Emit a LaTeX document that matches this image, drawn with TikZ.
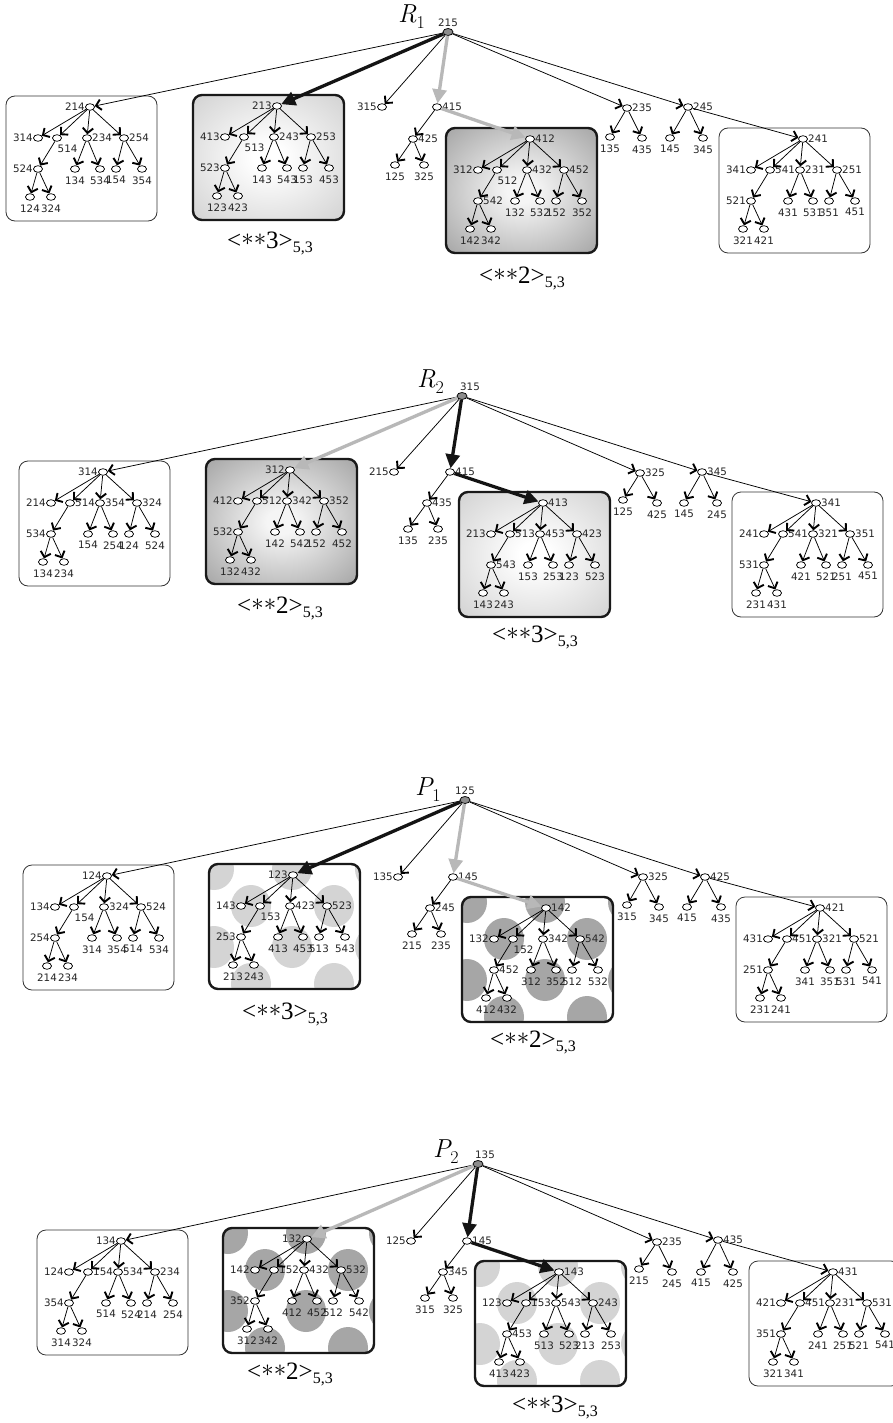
\documentclass[tikz,border=0pt]{standalone}
\usepackage{fontspec}
\newfontfamily\labfont{DejaVu Sans}
\newfontfamily\tagfont{Liberation Serif}
\usetikzlibrary{shapes.geometric,arrows.meta}

\definecolor{lgEdge}{gray}{0.74}
\definecolor{lgCorner}{gray}{0.62}
\definecolor{dgCenter}{gray}{0.96}
\definecolor{dgEdge}{gray}{0.50}
\definecolor{dgCorner}{gray}{0.34}
\definecolor{dotLight}{gray}{0.83}
\definecolor{dotDark}{gray}{0.65}
\definecolor{arrowGray}{gray}{0.72}
\definecolor{rootGray}{gray}{0.55}

\pgfdeclareradialshading{lightglow}{\pgfpointorigin}{color(0bp)=(white); color(5bp)=(white); color(50bp)=(lgEdge); color(71bp)=(lgCorner)}
\pgfdeclareradialshading{darkglow}{\pgfpointorigin}{color(0bp)=(dgCenter); color(5bp)=(dgCenter); color(50bp)=(dgEdge); color(71bp)=(dgCorner)}

\tikzset{
  tn/.style={ellipse, draw=black, line width=0.75pt, fill=white,
    minimum width=9pt, minimum height=6.6pt, inner sep=0pt},
  rootn/.style={tn, fill=rootGray, minimum width=10pt, minimum height=7pt},
  lab/.style={font={\labfont\fontsize{10.3}{10.3}\selectfont}, text=black!85, inner sep=0pt},
  lp-l/.style={anchor=east, xshift=-5pt},
  lp-r/.style={anchor=west, xshift=5pt},
  lp-b/.style={anchor=north, yshift=-7.2pt},
  lp-br/.style={anchor=north west, xshift=0.5pt, yshift=-6.5pt},
  tedge/.style={line width=0.75pt, -{Straight Barb[length=5pt,width=10.5pt,line width=1.9pt]}},
  boldblack/.style={line width=3.3pt, draw=black!92, -{Triangle[length=14pt,width=14pt]}},
  boldgray/.style={line width=3.3pt, draw=arrowGray, -{Triangle[length=14pt,width=14pt]}},
  thinbox/.style={draw=black!80, line width=0.8pt, rounded corners=9pt},
  thickbox/.style={draw=black!90, line width=2.4pt, rounded corners=9pt},
  title/.style={font=\fontsize{26}{26}\selectfont, inner sep=0pt, anchor=base west},
  tag/.style={inner sep=0pt}
}

% offsets of the twelve nodes of a subtree, relative to its root
\def\TX{{0,-52,-33,-3,34,-52,-15,10,26,52,-60,-39}}
\def\TY{{0,31,31,31,31,62,62,62,62,62,90,90}}

% subtree: name prefix, root x, root y, list of label/position
\newcommand\subtree[4]{%
  \foreach \lab/\pos [count=\i from 0] in {#4}{%
    \pgfmathsetmacro\dx{\TX[\i]}\pgfmathsetmacro\dy{\TY[\i]}%
    \node[lab,lp-\pos] at ({#2+\dx},{#3+\dy}) {\lab};
  }
  \foreach \i in {0,...,11}{%
    \pgfmathsetmacro\dx{\TX[\i]}\pgfmathsetmacro\dy{\TY[\i]}%
    \node[tn] (#1-\i) at ({#2+\dx},{#3+\dy}) {};
  }
  \foreach \a/\b in {0/1,0/2,0/3,0/4,2/5,3/6,3/7,4/8,4/9,5/10,5/11}
    \draw[tedge] (#1-\a) -- (#1-\b);
}

% frames around a subtree whose root is at (#1,#2)
\newcommand\plainbox[2]{\draw[thinbox] ({#1-84},{#2-11}) rectangle ({#1+67},{#2+114});}
\newcommand\glowbox[3]{%
  \path[shade, shading=#3, rounded corners=9pt] ({#1-84},{#2-11}) rectangle ({#1+67},{#2+114});
  \draw[thickbox] ({#1-84},{#2-11}) rectangle ({#1+67},{#2+114});}
\newcommand\dotbox[3]{%
  \begin{scope}
    \clip[rounded corners=9pt] ({#1-84},{#2-11}) rectangle ({#1+67},{#2+114});
    \foreach \u/\v in {5/5,83/5,166/5,42/42,125/42,5/83,83/83,166/83,42/120,125/120}
      \fill[#3] ({#1-84+\u},{#2-11+\v}) ellipse [x radius=20, y radius=21];
  \end{scope}
  \draw[thickbox] ({#1-84},{#2-11}) rectangle ({#1+67},{#2+114});}

% single node with its label
\newcommand\leaf[5]{\node[lab,lp-#5] at (#2,#3) {#4}; \node[tn] (#1) at (#2,#3) {};}

\newcommand\tagtext[1]{{\tagfont\fontsize{25}{25}\selectfont <\raisebox{3pt}{$\ast\ast$}#1>}\raisebox{-4pt}{\tagfont\fontsize{16}{16}\selectfont 5,3}}
\newcommand\titletext[2]{{\itshape #1}\raisebox{-6pt}{\fontsize{18}{18}\selectfont #2}}

\begin{document}
\begin{tikzpicture}[x=1pt,y=-1pt]
\useasboundingbox (0,0) rectangle (893,1423);
\clip (0,0) rectangle (893,1423);
\fill[white] (0,0) rectangle (893,1423);

% ================= R1 =================
\plainbox{90}{107}
\glowbox{277}{106}{lightglow}
\glowbox{530}{139}{darkglow}
\plainbox{803}{139}
\subtree{a1}{90}{107}{214/l,314/l,514/br,234/r,254/r,524/l,134/b,534/b,154/b,354/b,124/b,324/b}
\subtree{b1}{277}{106}{213/l,413/l,513/br,243/r,253/r,523/l,143/b,543/b,153/b,453/b,123/b,423/b}
\subtree{c1}{530}{139}{412/r,312/l,512/br,432/r,452/r,542/r,132/b,532/b,152/b,352/b,142/b,342/b}
\subtree{d1}{803}{139}{241/r,341/l,541/r,231/r,251/r,521/l,431/b,531/b,351/b,451/b,321/b,421/b}
\node[lab,anchor=south] at (448,27) {215};
\node[rootn] (r1) at (448,32) {};
\leaf{r1-315}{382}{107}{315}{l}
\leaf{r1-415}{437}{107}{415}{r}
\leaf{r1-425}{413}{139}{425}{r}
\leaf{r1-125}{395}{165}{125}{b}
\leaf{r1-325}{424}{165}{325}{b}
\leaf{r1-235}{627}{108}{235}{r}
\leaf{r1-135}{610}{137}{135}{b}
\leaf{r1-435}{642}{138}{435}{b}
\leaf{r1-245}{688}{107}{245}{r}
\leaf{r1-145}{670}{138}{145}{b}
\leaf{r1-345}{703}{138}{345}{b}
\foreach \s/\t in {r1/a1-0,r1/r1-315,r1/r1-235,r1/r1-245,r1-245/d1-0,r1-415/r1-425,
  r1-425/r1-125,r1-425/r1-325,r1-235/r1-135,r1-235/r1-435,r1-245/r1-145,r1-245/r1-345}
  \draw[tedge] (\s) -- (\t);
\draw[boldblack] (r1) -- (b1-0);
\draw[boldgray] (r1) -- (r1-415);
\draw[boldgray] (r1-415) -- (c1-0);
\node[title] at (398,23) {\titletext{R}{1}};
\node[tag] at (270,243) {\tagtext{3}};
\node[tag] at (522,278) {\tagtext{2}};

% ================= R2 =================
\plainbox{103}{472}
\glowbox{290}{470}{darkglow}
\glowbox{543}{503}{lightglow}
\plainbox{816}{503}
\subtree{a2}{103}{472}{314/l,214/l,514/r,354/r,324/r,534/l,154/b,254/b,124/b,524/b,134/b,234/b}
\subtree{b2}{290}{470}{312/l,412/l,512/r,342/r,352/r,532/l,142/b,542/b,152/b,452/b,132/b,432/b}
\subtree{c2}{543}{503}{413/r,213/l,513/r,453/r,423/r,543/r,153/b,253/b,123/b,523/b,143/b,243/b}
\subtree{d2}{816}{503}{341/r,241/l,541/r,321/r,351/r,531/l,421/b,521/b,251/b,451/b,231/b,431/b}
\node[lab,anchor=south] at (470,391) {315};
\node[rootn] (r2) at (462,396) {};
\leaf{r2-215}{394}{472}{215}{l}
\leaf{r2-415}{450}{472}{415}{r}
\leaf{r2-435}{427}{503}{435}{r}
\leaf{r2-135}{408}{529}{135}{b}
\leaf{r2-235}{438}{529}{235}{b}
\leaf{r2-325}{640}{473}{325}{r}
\leaf{r2-125}{623}{500}{125}{b}
\leaf{r2-425}{657}{503}{425}{b}
\leaf{r2-345}{702}{472}{345}{r}
\leaf{r2-145}{684}{503}{145}{b}
\leaf{r2-245}{717}{503}{245}{b}
\foreach \s/\t in {r2/a2-0,r2/r2-215,r2/r2-325,r2/r2-345,r2-345/d2-0,r2-415/r2-435,
  r2-435/r2-135,r2-435/r2-235,r2-325/r2-125,r2-325/r2-425,r2-345/r2-145,r2-345/r2-245}
  \draw[tedge] (\s) -- (\t);
\draw[boldgray] (r2) -- (b2-0);
\draw[boldblack] (r2) -- (r2-415);
\draw[boldblack] (r2-415) -- (c2-0);
\node[title] at (417,387) {\titletext{R}{2}};
\node[tag] at (280,608) {\tagtext{2}};
\node[tag] at (535,637) {\tagtext{3}};

% ================= P1 =================
\plainbox{107}{876}
\dotbox{293}{875}{dotLight}
\dotbox{546}{908}{dotDark}
\plainbox{820}{908}
\subtree{a3}{107}{876}{124/l,134/l,154/br,324/r,524/r,254/l,314/b,354/b,514/b,534/b,214/b,234/b}
\subtree{b3}{293}{875}{123/l,143/l,153/br,423/r,523/r,253/l,413/b,453/b,513/b,543/b,213/b,243/b}
\subtree{c3}{546}{908}{142/r,132/l,152/br,342/r,542/r,452/r,312/b,352/b,512/b,532/b,412/b,432/b}
\subtree{d3}{820}{908}{421/r,431/l,451/r,321/r,521/r,251/l,341/b,351/b,531/b,541/b,231/b,241/b}
\node[lab,anchor=south] at (465,795) {125};
\node[rootn] (r3) at (465,800) {};
\leaf{r3-135}{398}{877}{135}{l}
\leaf{r3-145}{453}{877}{145}{r}
\leaf{r3-245}{430}{908}{245}{r}
\leaf{r3-215}{412}{934}{215}{b}
\leaf{r3-235}{441}{934}{235}{b}
\leaf{r3-325}{643}{877}{325}{r}
\leaf{r3-315}{627}{905}{315}{b}
\leaf{r3-345}{659}{907}{345}{b}
\leaf{r3-425}{705}{877}{425}{r}
\leaf{r3-415}{687}{907}{415}{b}
\leaf{r3-435}{721}{907}{435}{b}
\foreach \s/\t in {r3/a3-0,r3/r3-135,r3/r3-325,r3/r3-425,r3-425/d3-0,r3-145/r3-245,
  r3-245/r3-215,r3-245/r3-235,r3-325/r3-315,r3-325/r3-345,r3-425/r3-415,r3-425/r3-435}
  \draw[tedge] (\s) -- (\t);
\draw[boldblack] (r3) -- (b3-0);
\draw[boldgray] (r3) -- (r3-145);
\draw[boldgray] (r3-145) -- (c3-0);
\node[title] at (415,795) {\titletext{P}{1}};
\node[tag] at (285,1014) {\tagtext{3}};
\node[tag] at (533,1042) {\tagtext{2}};

% ================= P2 =================
\plainbox{121}{1241}
\dotbox{307}{1239}{dotDark}
\dotbox{559}{1272}{dotLight}
\plainbox{833}{1272}
\subtree{a4}{121}{1241}{134/l,124/l,154/r,534/r,234/r,354/l,514/b,524/b,214/b,254/b,314/b,324/b}
\subtree{b4}{307}{1239}{132/l,142/l,152/r,432/r,532/r,352/l,412/b,452/b,512/b,542/b,312/b,342/b}
\subtree{c4}{559}{1272}{143/r,123/l,153/r,543/r,243/r,453/r,513/b,523/b,213/b,253/b,413/b,423/b}
\subtree{d4}{833}{1272}{431/r,421/l,451/r,231/r,531/r,351/l,241/b,251/b,521/b,541/b,321/b,341/b}
\node[lab,anchor=south] at (485,1159) {135};
\node[rootn] (r4) at (478,1164) {};
\leaf{r4-125}{411}{1241}{125}{l}
\leaf{r4-145}{467}{1241}{145}{r}
\leaf{r4-345}{443}{1272}{345}{r}
\leaf{r4-315}{425}{1298}{315}{b}
\leaf{r4-325}{453}{1298}{325}{b}
\leaf{r4-235}{657}{1242}{235}{r}
\leaf{r4-215}{639}{1269}{215}{b}
\leaf{r4-245}{672}{1272}{245}{b}
\leaf{r4-435}{718}{1240}{435}{r}
\leaf{r4-415}{701}{1272}{415}{b}
\leaf{r4-425}{733}{1272}{425}{b}
\foreach \s/\t in {r4/a4-0,r4/r4-125,r4/r4-235,r4/r4-435,r4-435/d4-0,r4-145/r4-345,
  r4-345/r4-315,r4-345/r4-325,r4-235/r4-215,r4-235/r4-245,r4-435/r4-415,r4-435/r4-425}
  \draw[tedge] (\s) -- (\t);
\draw[boldgray] (r4) -- (b4-0);
\draw[boldblack] (r4) -- (r4-145);
\draw[boldblack] (r4-145) -- (c4-0);
\node[title] at (433,1157) {\titletext{P}{2}};
\node[tag] at (290,1374) {\tagtext{2}};
\node[tag] at (555,1407) {\tagtext{3}};
\end{tikzpicture}
\end{document}
